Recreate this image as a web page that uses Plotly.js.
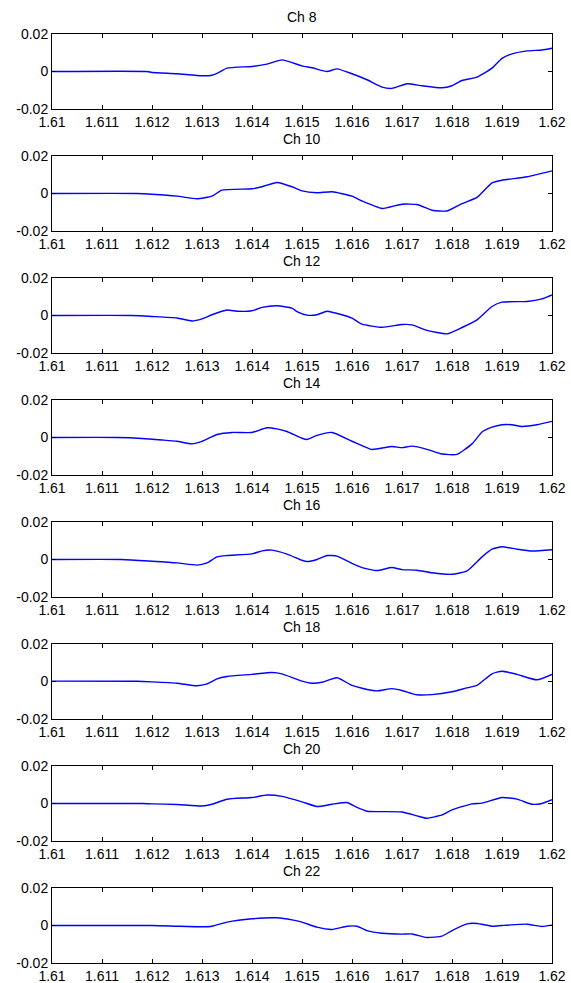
<!DOCTYPE html>
<html>
<head>
<meta charset="utf-8">
<script src="https://cdn.plot.ly/plotly-3.0.1.min.js"></script>
<style>html,body{margin:0;padding:0;background:#fff;}#chart{width:571px;height:983px;}</style>
</head>
<body>
<div id="chart"></div>
<script>
// ---- data ----
const channelNames = ['Ch 8', 'Ch 10', 'Ch 12', 'Ch 14', 'Ch 16', 'Ch 18', 'Ch 20', 'Ch 22'];

const xTickVals = [1.61, 1.611, 1.612, 1.613, 1.614, 1.615, 1.616, 1.617, 1.618, 1.619, 1.62];
const xTickText = ['1.61', '1.611', '1.612', '1.613', '1.614', '1.615', '1.616', '1.617', '1.618', '1.619', '1.62'];
const yTickVals = [-0.02, 0, 0.02];
const yTickText = ['-0.02', '0', '0.02'];

const ch8_t = [1.61, 1.6119, 1.612, 1.6125, 1.613, 1.6132, 1.6133, 1.6135, 1.614, 1.6143, 1.6146, 1.615, 1.6152, 1.6155, 1.6157, 1.616, 1.6163, 1.6166, 1.6168, 1.6171, 1.6174, 1.6178, 1.618, 1.6182, 1.6185, 1.6188, 1.619, 1.6192, 1.6195, 1.6198, 1.62];
const ch8_v = [0, 0, -0.0005, -0.0012, -0.0023, -0.002, -0.001, 0.0018, 0.0027, 0.0039, 0.0062, 0.003, 0.002, 0, 0.0014, -0.0012, -0.0044, -0.0083, -0.009, -0.0065, -0.0076, -0.0087, -0.0076, -0.0048, -0.003, 0.0018, 0.007, 0.0094, 0.011, 0.0115, 0.0124];

const ch10_t = [1.61, 1.6117, 1.612, 1.6125, 1.6129, 1.6132, 1.6134, 1.614, 1.6142, 1.6145, 1.6148, 1.615, 1.6153, 1.6156, 1.616, 1.6162, 1.6166, 1.617, 1.6173, 1.6176, 1.6179, 1.6182, 1.6185, 1.6188, 1.619, 1.6195, 1.62];
const ch10_v = [0, 0, -0.0004, -0.0014, -0.0028, -0.0014, 0.0018, 0.0025, 0.0036, 0.0059, 0.0036, 0.0014, 0.0004, 0.0009, -0.0014, -0.004, -0.008, -0.0057, -0.0059, -0.0089, -0.0093, -0.0054, -0.0021, 0.0057, 0.0071, 0.0089, 0.0121];

const ch12_t = [1.61, 1.6116, 1.612, 1.6125, 1.6128, 1.613, 1.6132, 1.6135, 1.6137, 1.614, 1.6142, 1.6145, 1.6148, 1.6149, 1.6151, 1.6153, 1.6155, 1.6158, 1.616, 1.6162, 1.6166, 1.617, 1.6172, 1.6175, 1.6179, 1.6182, 1.6185, 1.6188, 1.619, 1.6195, 1.6198, 1.62];
const ch12_v = [0, 0, -0.0005, -0.0013, -0.0029, -0.0018, 0.0004, 0.0029, 0.0023, 0.0025, 0.0043, 0.0052, 0.0039, 0.0021, 0.0002, 0.0004, 0.0023, 0.0004, -0.0014, -0.0046, -0.0063, -0.0048, -0.005, -0.0079, -0.0098, -0.0064, -0.0023, 0.0048, 0.0071, 0.0075, 0.0089, 0.011];

const ch14_t = [1.61, 1.6113, 1.6118, 1.6122, 1.6125, 1.6128, 1.613, 1.6133, 1.6136, 1.614, 1.6143, 1.6145, 1.6147, 1.615, 1.6151, 1.6153, 1.6156, 1.616, 1.6162, 1.6164, 1.6168, 1.617, 1.6172, 1.6175, 1.6178, 1.6181, 1.6184, 1.6186, 1.6188, 1.619, 1.6192, 1.6194, 1.6197, 1.62];
const ch14_v = [0, 0, -0.0005, -0.0013, -0.002, -0.0034, -0.0021, 0.0016, 0.0027, 0.0027, 0.0052, 0.0046, 0.0032, -0.0004, -0.0011, 0.0011, 0.0027, -0.002, -0.0043, -0.0064, -0.0048, -0.0054, -0.0046, -0.0063, -0.0088, -0.009, -0.0034, 0.0029, 0.0055, 0.0068, 0.0068, 0.0059, 0.0068, 0.0086];

const ch16_t = [1.61, 1.6114, 1.612, 1.6125, 1.6129, 1.6131, 1.6133, 1.6135, 1.614, 1.6142, 1.6144, 1.6147, 1.615, 1.6151, 1.6153, 1.6155, 1.6157, 1.616, 1.6162, 1.6165, 1.6168, 1.617, 1.6173, 1.6176, 1.618, 1.6183, 1.6186, 1.6188, 1.619, 1.6193, 1.6196, 1.62];
const ch16_v = [0, 0, -0.0009, -0.0018, -0.003, -0.0018, 0.0014, 0.0021, 0.003, 0.0046, 0.005, 0.0029, -0.0004, -0.0011, 0, 0.0021, 0.0018, -0.0021, -0.0043, -0.0059, -0.0043, -0.0054, -0.0057, -0.0071, -0.0079, -0.0061, 0.0014, 0.0055, 0.0068, 0.0055, 0.0045, 0.0052];

const ch18_t = [1.61, 1.6117, 1.612, 1.6125, 1.6129, 1.6131, 1.6133, 1.6135, 1.614, 1.6144, 1.6146, 1.615, 1.6152, 1.6154, 1.6157, 1.616, 1.6162, 1.6165, 1.6168, 1.617, 1.6173, 1.6176, 1.618, 1.6183, 1.6185, 1.6188, 1.619, 1.6193, 1.6197, 1.62];
const ch18_v = [0.0002, 0.0001, -0.0002, -0.0009, -0.0023, -0.0013, 0.0014, 0.0027, 0.0038, 0.0048, 0.0041, 0.0002, -0.0009, -0.0004, 0.002, -0.0021, -0.0036, -0.005, -0.0038, -0.0048, -0.0071, -0.007, -0.0055, -0.0034, -0.0021, 0.0041, 0.0055, 0.0038, 0.0009, 0.0038];

const ch20_t = [1.61, 1.6118, 1.612, 1.6125, 1.613, 1.6132, 1.6135, 1.614, 1.6143, 1.6146, 1.615, 1.6153, 1.6156, 1.6159, 1.6161, 1.6163, 1.617, 1.6173, 1.6175, 1.6178, 1.618, 1.6184, 1.6186, 1.619, 1.6193, 1.6196, 1.6198, 1.62];
const ch20_v = [0, 0, -0.0002, -0.0005, -0.0013, -0.0004, 0.0023, 0.0032, 0.0045, 0.0038, 0.0009, -0.0016, -0.0004, 0.0005, -0.0021, -0.0041, -0.0045, -0.0066, -0.0079, -0.0061, -0.0034, -0.0002, 0.0002, 0.0032, 0.0023, -0.0004, 0, 0.002];

const ch22_t = [1.61, 1.612, 1.6125, 1.613, 1.6132, 1.6135, 1.614, 1.6145, 1.6148, 1.615, 1.6153, 1.6156, 1.6159, 1.6161, 1.6163, 1.6166, 1.617, 1.6172, 1.6175, 1.6178, 1.618, 1.6183, 1.6185, 1.6188, 1.619, 1.6195, 1.6198, 1.62];
const ch22_v = [0, 0, -0.0004, -0.0007, -0.0004, 0.0018, 0.0036, 0.0041, 0.003, 0.0018, -0.0009, -0.0021, -0.0004, -0.0004, -0.0027, -0.0041, -0.0046, -0.0045, -0.0064, -0.0057, -0.0027, 0.0009, 0.0011, -0.0004, 0, 0.0007, -0.0005, 0.0002];

const seriesT = [ch8_t, ch10_t, ch12_t, ch14_t, ch16_t, ch18_t, ch20_t, ch22_t];
const seriesV = [ch8_v, ch10_v, ch12_v, ch14_v, ch16_v, ch18_v, ch20_v, ch22_v];

// ---- layout ----
const W = 571, H = 983;
const plotLeft = 52, plotRight = 552, plotH = 75, firstTop = 34, pitch = 122;
const font = {family: 'Liberation Sans, Arial, sans-serif', size: 14, color: '#000'};

const traces = [];
const layout = {
  width: W, height: H,
  margin: {l: 0, r: 0, t: 0, b: 0},
  paper_bgcolor: '#fff', plot_bgcolor: '#fff',
  showlegend: false,
  font: font,
  annotations: []
};

channelNames.forEach((name, i) => {
  const top = firstTop + i * pitch;
  const bottom = top + plotH;
  const sfx = i === 0 ? '' : String(i + 1);
  traces.push({
    x: seriesT[i], y: seriesV[i],
    type: 'scatter', mode: 'lines',
    line: {color: '#0000ff', width: 1.4, shape: 'spline', smoothing: 0.5},
    xaxis: 'x' + sfx, yaxis: 'y' + sfx,
    hoverinfo: 'skip'
  });
  layout['xaxis' + sfx] = {
    domain: [plotLeft / W, plotRight / W],
    anchor: 'y' + sfx,
    range: [1.61, 1.62],
    tickmode: 'array', tickvals: xTickVals, ticktext: xTickText,
    ticks: 'inside', ticklen: 4, tickcolor: '#000', tickwidth: 1,
    showline: true, linecolor: '#000', linewidth: 1, mirror: 'ticks',
    showgrid: false, zeroline: false,
    tickfont: font, automargin: false
  };
  layout['yaxis' + sfx] = {
    domain: [1 - bottom / H, 1 - top / H],
    anchor: 'x' + sfx,
    range: [-0.02, 0.02],
    tickmode: 'array', tickvals: yTickVals, ticktext: yTickText,
    ticks: 'inside', ticklen: 4, tickcolor: '#000', tickwidth: 1,
    showline: true, linecolor: '#000', linewidth: 1, mirror: 'ticks',
    showgrid: false, zeroline: false,
    tickfont: font, automargin: false
  };
  layout.annotations.push({
    text: name, showarrow: false,
    xref: 'paper', yref: 'paper',
    x: (plotLeft + plotRight) / 2 / W, y: 1 - (top - 17) / H,
    xanchor: 'center', yanchor: 'middle',
    font: font
  });
});

Plotly.newPlot('chart', traces, layout, {staticPlot: true, displayModeBar: false});
</script>
</body>
</html>
